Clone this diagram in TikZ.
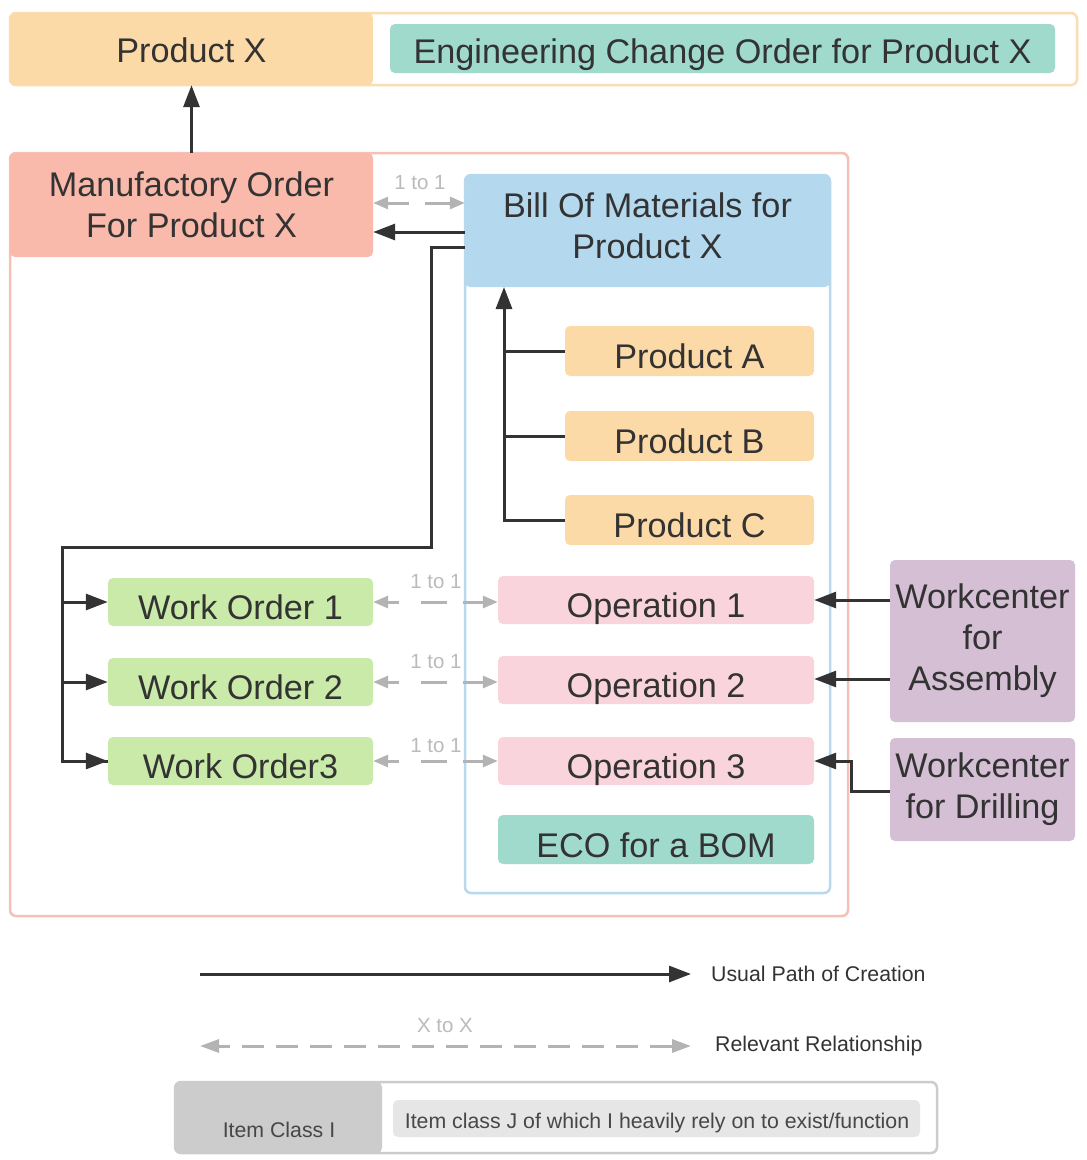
\documentclass[tikz,border=0pt]{standalone}
\usepackage{fontspec}
\setmainfont{Liberation Sans}
\usetikzlibrary{arrows.meta,calc}
\definecolor{peach}{HTML}{FCDAA8}
\definecolor{peachline}{HTML}{FBDDB0}
\definecolor{salmon}{HTML}{F9B9AB}
\definecolor{salmonline}{HTML}{F7C0B6}
\definecolor{bluefill}{HTML}{B4D8EE}
\definecolor{blueline}{HTML}{B8D8EC}
\definecolor{greenfill}{HTML}{C9EAA9}
\definecolor{pinkfill}{HTML}{F9D4DD}
\definecolor{tealfill}{HTML}{9FDACD}
\definecolor{purplefill}{HTML}{D4BFD4}
\definecolor{ink}{HTML}{333333}
\definecolor{grayarrow}{HTML}{B3B3B3}
\definecolor{graytext}{HTML}{BBBBBB}
\definecolor{legdark}{HTML}{CCCCCC}
\definecolor{leglight}{HTML}{E6E6E6}
\tikzset{
  big/.style={font=\fontsize{34.2}{41}\selectfont, text=ink, align=center},
  small/.style={font=\fontsize{21.3}{25}\selectfont, text=ink},
  boxn/.style={rounded corners=5pt, inner sep=0pt, draw=none, big},
  oneline/.style={boxn, text height=35pt, text depth=0pt},
  frameline/.style={rounded corners=6pt, line width=2.5pt},
  conn/.style={draw=ink, line width=3pt},
  arr/.style={conn, -{Triangle[length=22pt,width=16pt]}},
  relbase/.style={draw=grayarrow, line width=3pt},
  reltips/.style={{Triangle[length=15pt,width=12pt]}-{Triangle[length=15pt,width=12pt]}},
  relshort/.style={relbase, reltips, dash pattern=on 12pt off 22pt on 26pt off 16pt on 40pt off 1pt},
  reltop/.style={relbase, reltips, dash pattern=on 22pt off 16pt on 40pt off 1pt},
  rellong/.style={relbase, {Triangle[length=19pt,width=13pt]}-{Triangle[length=19pt,width=13pt]},
    dash pattern=on 22pt off 12pt, dash phase=10pt},
  lbl/.style={font=\fontsize{20.5}{24}\selectfont, text=graytext, inner sep=0pt}
}
\begin{document}
\begin{tikzpicture}[x=1pt,y=-1pt]
\useasboundingbox[fill=white] (0,0) rectangle (1087,1160);

% top frame
\draw[frameline, draw=peachline] (10,13) rectangle (1077,85);
\node[boxn, fill=peach, minimum width=363pt, minimum height=72pt, text height=26pt, text depth=0pt] (px) at (191.5,49) {Product X};
\node[boxn, fill=tealfill, minimum width=665pt, minimum height=49pt, text height=30pt, text depth=0pt] (eco) at (722.5,48.5) {Engineering Change Order for Product X};

% big red frame
\draw[frameline, draw=salmonline] (10,153) rectangle (848,916);
\node[boxn, fill=salmon, minimum width=363pt, minimum height=104pt] (mo) at (191.5,205) {Manufactory Order\\For Product X};

% BOM frame
\draw[frameline, draw=blueline] (465,175) rectangle (830,893);
\node[boxn, fill=bluefill, minimum width=365pt, minimum height=112pt] (bom) at (647.5,231) {};
\node[big, inner sep=0pt] (bomt) at (647.5,226) {Bill Of Materials for\\Product X};

% products
\node[oneline, fill=peach, minimum width=249pt, minimum height=50pt] (pa) at (689.5,351) {Product A};
\node[oneline, fill=peach, minimum width=249pt, minimum height=50pt] (pb) at (689.5,436) {Product B};
\node[oneline, fill=peach, minimum width=249pt, minimum height=50pt] (pc) at (689.5,520) {Product C};

% operations
\node[oneline, fill=pinkfill, minimum width=316pt, minimum height=48pt] (op1) at (656,600) {Operation 1};
\node[oneline, fill=pinkfill, minimum width=316pt, minimum height=48pt] (op2) at (656,680) {Operation 2};
\node[oneline, fill=pinkfill, minimum width=316pt, minimum height=48pt] (op3) at (656,761) {Operation 3};
\node[oneline, fill=tealfill, minimum width=316pt, minimum height=49pt] (ecob) at (656,839.5) {ECO for a BOM};

% work orders
\node[oneline, fill=greenfill, minimum width=265pt, minimum height=48pt] (wo1) at (240.5,602) {Work Order 1};
\node[oneline, fill=greenfill, minimum width=265pt, minimum height=48pt] (wo2) at (240.5,682) {Work Order 2};
\node[oneline, fill=greenfill, minimum width=265pt, minimum height=48pt] (wo3) at (240.5,761) {Work Order3};

% workcenters
\node[boxn, fill=purplefill, minimum width=185pt, minimum height=162pt] (wca) at (982.5,641) {Workcenter\\for\\Assembly};
\node[boxn, fill=purplefill, minimum width=185pt, minimum height=103pt] (wcd) at (982.5,789.5) {Workcenter\\for Drilling};

% connectors
\draw[arr] (mo.north) -- (px.south);
\draw[arr] (bom.west |- 0,232) -- (mo.east |- 0,232);
\draw[reltop] (mo.east |- 0,203) -- (bom.west |- 0,203);
\node[lbl] (l0) at (420,183) {1 to 1};

% BOM -> work orders
\coordinate (b1) at (431,247);
\coordinate (b2) at (431,547);
\coordinate (b3) at (62,547);
\coordinate (b4) at (62,761);
\draw[conn, line join=miter] (bom.west |- b1) -- (b1) -- (b2) -- (b3) -- (b4) -- (wo3.west);
\draw[arr] (b3 |- wo1.west) -- (wo1.west);
\draw[arr] (b3 |- wo2.west) -- (wo2.west);
\draw[arr] (b4) -- (wo3.west);

% products -> BOM
\coordinate (bus) at (504,287);
\draw[arr, line join=miter] (pc.west) -| (bus);
\draw[conn] (pa.west) -- (pa.west -| bus);
\draw[conn] (pb.west) -- (pb.west -| bus);

% work orders <-> operations
\draw[relshort] (wo1.east) -- (op1.west |- wo1.east);
\draw[relshort] (wo2.east) -- (op2.west |- wo2.east);
\draw[relshort] (wo3.east) -- (op3.west |- wo3.east);
\node[lbl] (l1) at (436,582) {1 to 1};
\node[lbl] (l2) at (436,662) {1 to 1};
\node[lbl] (l3) at (436,746) {1 to 1};

% workcenters -> operations
\draw[arr] (wca.west |- 0,600) -- (op1.east);
\draw[arr] (wca.west |- 0,679) -- (op2.east |- 0,679);
\coordinate (d1) at (851,791);
\draw[arr, line join=miter] (wcd.west |- d1) -- (d1) |- (op3.east);

% legend
\coordinate (la) at (200,974);
\coordinate (lb) at (691,974);
\draw[arr] (la) -- (lb);
\node[small, anchor=west, inner sep=0pt] (t1) at (711,974) {Usual Path of Creation};
\coordinate (lc) at (200,1046);
\coordinate (ld) at (691,1046);
\draw[rellong] (lc) -- (ld);
\node[lbl] (xx) at (445,1026) {X to X};
\node[small, anchor=west, inner sep=0pt] (t2) at (715,1046) {Relevant Relationship};

\draw[frameline, draw=legdark] (175,1082) rectangle (937,1153);
\node[boxn, fill=legdark, minimum width=207pt, minimum height=71pt] (ic) at (278.5,1117.5) {};
\node[small, text=ink!90] (ict) at (279,1130) {Item Class I};
\node[boxn, fill=leglight, minimum width=527pt, minimum height=37pt] (icj) at (656.5,1118.5) {};
\node[small, text=ink!90] (icjt) at (657,1123) {Item class J of which I heavily rely on to exist/function};
\end{tikzpicture}
\end{document}
